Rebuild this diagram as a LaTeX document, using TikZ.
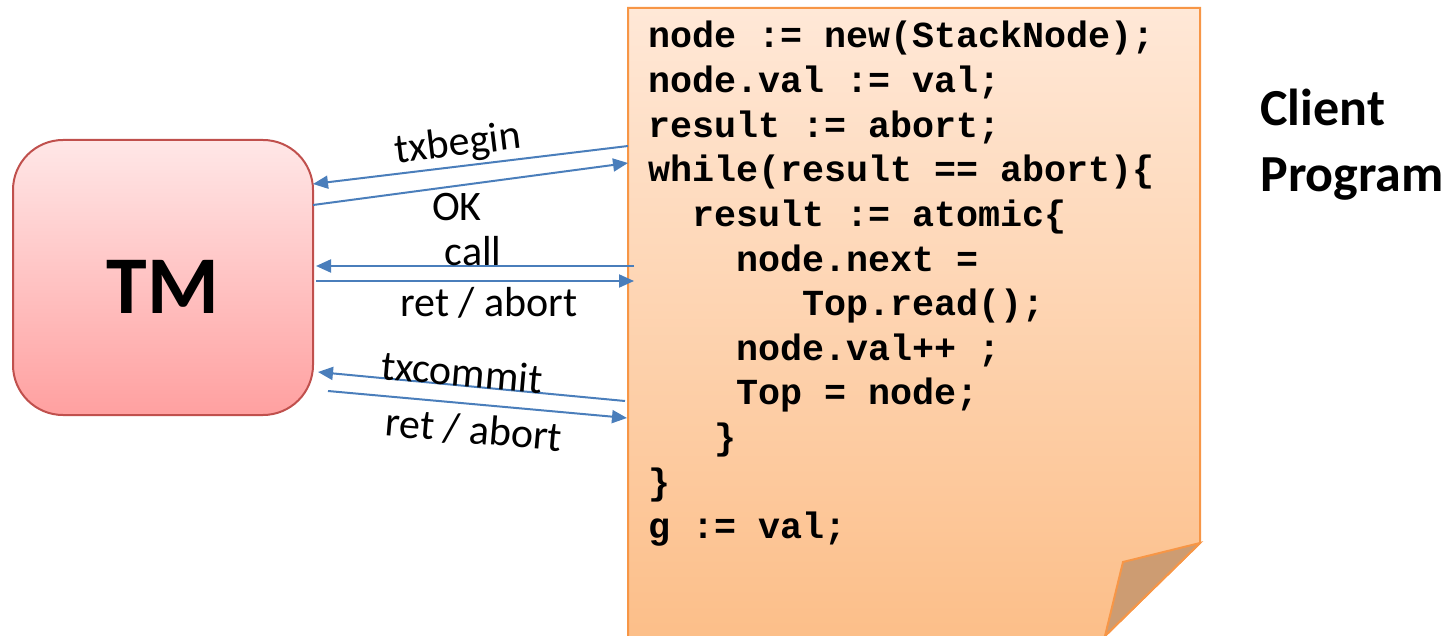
\documentclass[tikz,border=0pt]{standalone}
\usepackage{fontspec}
\setmainfont{Carlito}
\newfontfamily\codefont{Liberation Mono}
\usetikzlibrary{arrows.meta}

\definecolor{tmtop}{RGB}{255,231,231}
\definecolor{tmbottom}{RGB}{255,160,160}
\definecolor{tmborder}{RGB}{192,80,77}
\definecolor{doctop}{RGB}{255,232,215}
\definecolor{docbottom}{RGB}{252,190,136}
\definecolor{docborder}{RGB}{247,150,70}
\definecolor{flap}{RGB}{205,156,114}
\definecolor{msgblue}{RGB}{74,126,187}

\begin{document}
\begin{tikzpicture}[x=0.5pt,y=-0.5pt,
  msg/.style={draw=msgblue, line width=1pt, -{Triangle[length=7.5pt,width=6.5pt]}},
  lbl/.style={inner sep=0pt, font=\fontsize{21}{25}\selectfont},
  code/.style={anchor=base west, inner sep=0pt, font=\codefont\bfseries\fontsize{18.35}{22}\selectfont}]
\useasboundingbox (0,0) rectangle (1450,636);

\coordinate (P1) at (628,8);
\coordinate (P2) at (1200,8);
\coordinate (P3) at (1200,543);
\coordinate (P4) at (1105,636);
\coordinate (P5) at (628,636);
\coordinate (F) at (1123,562);

% client program page
\fill[top color=doctop, bottom color=docbottom] (P1)--(P2)--(P3)--(P4)--(628,645)--cycle;
\draw[docborder, line width=1pt] (628,645)--(P1)--(P2)--(P3)--(P4);
\draw[docborder, line width=1pt, fill=flap] (P3)--(F)--(P4)--cycle;

% transaction manager
\node[draw=tmborder, line width=1pt, rounded corners=25pt, top color=tmtop, bottom color=tmbottom,
      minimum width=150pt, minimum height=137.5pt, inner sep=0pt] (TM) at (163,277.5) {};
\node[font=\bfseries\fontsize{41}{48}\selectfont] (tmtext) at (163,287) {TM};

\node[anchor=base west, inner sep=0pt, font=\bfseries\fontsize{26}{31}\selectfont] (client) at (1260,126) {Client};
\node[anchor=base west, inner sep=0pt, font=\bfseries\fontsize{26}{31}\selectfont] (program) at (1260,192) {Program};

% code
\node[code] (c1) at (648,48) {node := new(StackNode);};
\node[code] (c2) at (648,92.6) {node.val := val;};
\node[code] (c3) at (648,137.2) {result := abort;};
\node[code] (c4) at (648,181.8) {while(result == abort)\{};
\node[code] (c5) at (692,226.4) {result := atomic\{};
\node[code] (c6) at (736,271) {node.next =};
\node[code] (c7) at (802,315.6) {Top.read();};
\node[code] (c8) at (736,360.2) {node.val++ ;};
\node[code] (c9) at (736,404.8) {Top = node;};
\node[code] (c10) at (714,449.4) {\}};
\node[code] (c11) at (648,494) {\}};
\node[code] (c12) at (648,538.6) {g := val;};

% messages
\coordinate (D1) at (628,146);
\coordinate (T1) at (313,184);
\coordinate (T2) at (313,205);
\coordinate (D2) at (628,163);
\coordinate (D3) at (634,266);
\coordinate (T3) at (316,266);
\coordinate (T4) at (316,281);
\coordinate (D4) at (634,281);
\coordinate (D5) at (625,401);
\coordinate (T5) at (318,372);
\coordinate (T6) at (328,391);
\coordinate (D6) at (627,418);

\draw[msg] (D1) -- (T1);
\draw[msg] (T2) -- (D2);
\draw[msg] (D3) -- (T3);
\draw[msg] (T4) -- (D4);
\draw[msg] (D5) -- (T5);
\draw[msg] (T6) -- (D6);

\node[lbl, rotate=7] (l1) at (458,145) {txbegin};
\node[lbl] (l2) at (457,207) {OK};
\node[lbl] (l3) at (473,251) {call};
\node[lbl] (l4) at (489,303) {ret / abort};
\node[lbl, rotate=-5] (l5) at (462,372) {txcommit};
\node[lbl, rotate=-5] (l6) at (474,430) {ret / abort};
\end{tikzpicture}
\end{document}
